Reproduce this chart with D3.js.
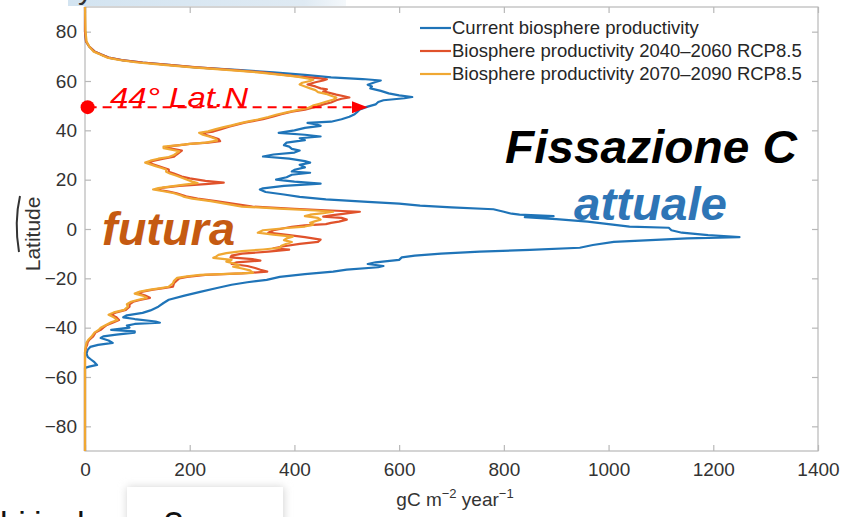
<!DOCTYPE html>
<html>
<head>
<meta charset="utf-8">
<script src="https://cdn.jsdelivr.net/npm/d3@7"></script>
<style>
  html, body { margin: 0; padding: 0; background: #fff; }
  svg { display: block; font-family: "Liberation Sans", Arial, sans-serif; }
</style>
</head>
<body>
<svg id="chart" width="864" height="517"></svg>
<script>
// [latitude, gC m-2 year-1]
const currentNPP = [
  [90, 0], [80, 0], [76, 2], [74, 8], [72, 18], [70.8, 30], [69.5, 45], [68.5, 70], [67.5, 110], [66.5, 160],
  [65.5, 210], [64.5, 290], [63.5, 360], [62.5, 420], [61.5, 470], [60.8, 530], [60.2, 565], [59.6, 555],
  [58.5, 540], [57.8, 548], [57, 545], [56, 565], [55, 580], [54.2, 600], [53.5, 625], [53, 610], [52.2, 570],
  [51.5, 560], [50.5, 555], [49.6, 540], [48.5, 525], [47.5, 520], [46.5, 515], [45.5, 505], [44.5, 490],
  [43.5, 470], [43, 425], [42.5, 440], [41.8, 450], [41, 420], [40, 400], [39, 370], [38.2, 420], [37.5, 450],
  [36.8, 410], [36, 420], [35, 385], [34, 380], [33.4, 390], [32.5, 395], [31.8, 410], [31, 400], [30.2, 360],
  [29.4, 340], [28.5, 390], [27.5, 420], [26.9, 430], [26, 410], [25, 420], [24, 400], [23.3, 395], [22.8, 430],
  [22, 395], [21, 385], [20, 365], [19.2, 400], [18.4, 450], [17.5, 380], [16.5, 340], [16, 334], [15, 345],
  [14, 380], [13, 410], [12, 460], [11, 540], [10.3, 600], [9.5, 640], [8.8, 700], [8, 780], [7, 800],
  [6.2, 815], [5.8, 830], [5.2, 895], [4.8, 840], [4, 900], [3, 960], [2, 1000], [1, 1040], [0.5, 1115],
  [-0.5, 1120], [-1.5, 1140], [-2.5, 1190], [-3.3, 1250], [-3.8, 1150], [-4.5, 1080], [-5.2, 1010],
  [-6.5, 970], [-7.6, 945], [-8.5, 850], [-9.2, 754], [-10, 680], [-10.8, 630], [-11.5, 605], [-12.5, 600],
  [-13.5, 555], [-14.2, 540], [-15, 570], [-15.5, 560], [-16.5, 500], [-17.3, 474], [-18.3, 420],
  [-19.4, 372], [-20.6, 347], [-21.6, 310], [-22.6, 280], [-24, 250], [-25.5, 220], [-27, 190],
  [-28.7, 160], [-30, 150], [-31.5, 140], [-33, 125], [-34, 110], [-35, 80], [-35.8, 73], [-36.5, 95],
  [-37.5, 135], [-38, 143], [-38.5, 95], [-39.2, 80], [-40, 85], [-40.9, 50], [-41.5, 95], [-42, 95],
  [-42.8, 60], [-43.5, 35], [-44.2, 30], [-45.2, 45], [-46.2, 53], [-47, 25], [-47.8, 10], [-49, 5],
  [-50.5, 3], [-51.8, 5], [-53, 12], [-54, 18], [-55.1, 23], [-55.8, 8], [-56.3, 0], [-60, 0], [-90, 0]
]

const npp2040 = [
  [90, 0], [80, 0], [76, 2], [74, 8], [72, 18], [70.8, 30], [69.5, 45], [68.5, 70], [67.5, 110], [66.5, 160],
  [65.5, 215], [64.5, 280], [63.5, 340], [62.5, 380], [61.8, 410], [61.2, 445], [60.7, 462], [60.2, 455],
  [59.5, 440], [58.6, 425], [57.8, 440], [57, 450], [56.6, 462], [55.8, 455], [55.3, 465], [54.5, 480],
  [53.8, 495], [53.3, 505], [52.8, 490], [52.2, 480], [51.3, 470], [50.5, 455], [49.5, 440], [48.4, 420],
  [47.6, 395], [46.5, 375], [45.6, 360], [44.5, 340], [43.5, 315], [43.1, 305], [42.3, 290], [41.5, 275],
  [40.5, 260], [39.5, 245], [39, 225], [38.2, 230], [37.2, 245], [36.5, 255], [35.6, 258], [35, 235],
  [34.5, 200], [34.2, 190], [33.5, 160], [33, 155], [32.4, 170], [31.8, 185], [31, 180], [30.2, 175],
  [29.3, 170], [28.5, 150], [27.6, 130], [26.9, 120], [26.2, 130], [25.5, 140], [24.8, 150], [24.1, 160],
  [23.2, 160], [22.5, 170], [21.3, 185], [20.5, 200], [19.5, 230], [18.8, 265], [18.2, 230], [17.5, 180],
  [16.8, 150], [16, 137], [15.2, 160], [14.5, 175], [13.5, 190], [13.1, 195], [12.3, 215], [11.3, 250],
  [10.2, 285], [9.1, 320], [8.2, 400], [7.5, 470], [7, 525], [6.3, 500], [5.5, 470], [5, 455], [4.5, 490],
  [3.8, 500], [3, 485], [2.5, 470], [2, 460], [1.5, 420], [0.9, 395], [0.3, 380], [-0.5, 360], [-1.5, 350],
  [-2.5, 390], [-3.3, 420], [-4.3, 450], [-5.2, 445], [-6, 410], [-7, 380], [-7.8, 360], [-8.4, 390],
  [-9.2, 350], [-10, 300], [-10.8, 280], [-11.5, 278], [-12.2, 320], [-12.8, 335], [-13.5, 290],
  [-14.2, 280], [-15, 310], [-15.8, 325], [-16.5, 335], [-17.3, 348], [-18, 300], [-18.6, 230],
  [-19.4, 195], [-20, 180], [-21, 175], [-22, 170], [-23.4, 168], [-24, 150], [-24.6, 130], [-25.4, 110],
  [-26, 100], [-27, 115], [-27.9, 124], [-28.8, 105], [-29.5, 92], [-30.5, 85], [-31.5, 85], [-32.8, 78],
  [-33.8, 60], [-34.8, 50], [-35.8, 60], [-36.9, 65], [-37.8, 55], [-38.9, 42], [-40, 35], [-40.9, 30],
  [-42, 20], [-43.7, 15], [-45, 8], [-46, 5], [-47, 4], [-48, 2], [-50, 0], [-90, 0]
]

const npp2070 = [
  [90, 0], [80, 1], [76, 3], [74, 8], [72, 16], [70.8, 28], [69.5, 42], [68.5, 65], [67.5, 100], [66.5, 150],
  [65.5, 205], [64.5, 270], [63.5, 330], [62.5, 375], [61.8, 405], [61, 425], [60.5, 436], [60, 430],
  [59.3, 415], [58.6, 410], [57.8, 420], [57, 430], [56.3, 440], [55.5, 445], [54.8, 460], [54, 470],
  [53.3, 480], [52.5, 475], [51.6, 460], [50.8, 448], [50, 435], [49, 425], [48.2, 405], [47.3, 385],
  [46.3, 365], [45.4, 350], [44.4, 330], [43.5, 310], [42.8, 295], [42, 280], [41.3, 265], [40.5, 250],
  [39.6, 235], [39, 218], [38.2, 225], [37.3, 240], [36.5, 250], [35.8, 252], [35, 230], [34.4, 195],
  [34, 180], [33.4, 150], [32.8, 150], [32.2, 165], [31.5, 180], [30.8, 175], [30, 170], [29.2, 160],
  [28.5, 140], [27.7, 125], [26.9, 115], [26.2, 125], [25.5, 135], [24.8, 145], [24.1, 155], [23.2, 155],
  [22.5, 162], [21.6, 175], [20.8, 185], [20, 195], [19.2, 205], [18.6, 215], [18, 190], [17.3, 165],
  [16.6, 140], [16, 130], [15.3, 150], [14.5, 170], [13.5, 185], [13, 190], [12.3, 205], [11.3, 240],
  [10.2, 270], [9.1, 300], [8.3, 370], [7.5, 440], [7, 474], [6.4, 455], [5.8, 430], [5.2, 420],
  [4.5, 445], [3.8, 450], [3.2, 440], [2.5, 430], [1.8, 436], [1, 420], [0.3, 380], [-0.5, 340],
  [-1.5, 330], [-2.3, 360], [-3.1, 397], [-3.8, 385], [-4.5, 380], [-5.3, 395], [-6, 385], [-6.8, 375],
  [-7.6, 372], [-8.3, 340], [-9, 300], [-9.8, 270], [-10.5, 255], [-11.2, 250], [-11.7, 245], [-12.5, 280],
  [-13.2, 270], [-14, 285], [-14.8, 295], [-15.3, 283], [-16, 300], [-16.8, 315], [-17.8, 321],
  [-18.3, 260], [-18.6, 220], [-19.2, 195], [-19.8, 176], [-21, 170], [-22, 168], [-23.4, 160],
  [-24, 145], [-24.6, 125], [-25.4, 105], [-26.2, 95], [-27, 110], [-27.9, 118], [-28.8, 100],
  [-29.5, 88], [-30.5, 80], [-31.5, 82], [-32.8, 75], [-33.8, 55], [-34.8, 45], [-35.8, 55], [-36.9, 62],
  [-37.8, 50], [-38.9, 40], [-40, 30], [-40.9, 26], [-42, 18], [-43.7, 12], [-45, 6], [-46, 3], [-47, 2],
  [-48, 1], [-50, 0], [-90, 0]
]

const seriesNames = [
  'Current biosphere productivity',
  'Biosphere productivity 2040\u20132060 RCP8.5',
  'Biosphere productivity 2070\u20132090 RCP8.5'
]
const seriesColors = ['#1f74b8', '#e0522b', '#f0a833']
const xTicks = [0, 200, 400, 600, 800, 1000, 1200, 1400]
const yTicks = [-80, -60, -40, -20, 0, 20, 40, 60, 80]

const svg = d3.select('#chart')

// bits of the slide around the figure
const grad = svg.append('defs').append('linearGradient').attr('id', 'bar').attr('x1', 0).attr('x2', 1)
grad.append('stop').attr('offset', 0).attr('stop-color', '#d3e4f1')
grad.append('stop').attr('offset', 0.85).attr('stop-color', '#dfeaf3')
grad.append('stop').attr('offset', 1).attr('stop-color', '#f4f8fb')
svg.append('rect').attr('x', 68).attr('y', 0).attr('width', 278).attr('height', 6).attr('fill', 'url(#bar)')
svg.append('text').attr('x', 78).attr('y', -1).attr('font-size', 30).attr('fill', '#333').text('y')

const x = d3.scaleLinear().domain([0, 1400]).range([85, 818])
const y = d3.scaleLinear().domain([-90, 90]).range([451, 7])

// box + inward ticks
const axisColor = '#b8b8b8'
svg.append('rect')
    .attr('x', x(0)).attr('y', y(90))
    .attr('width', x(1400) - x(0)).attr('height', y(-90) - y(90))
    .attr('fill', 'none').attr('stroke', axisColor).attr('stroke-width', 1.2)

const axBottom = svg.append('g').attr('transform', `translate(0,${y(-90)})`)
    .call(d3.axisBottom(x).tickValues(xTicks).tickFormat(d3.format('d')).tickSizeInner(-6).tickSizeOuter(0).tickPadding(12))
const axTop = svg.append('g').attr('transform', `translate(0,${y(90)})`)
    .call(d3.axisTop(x).tickValues(xTicks).tickSizeInner(-6).tickSizeOuter(0).tickFormat(''))
const axLeft = svg.append('g').attr('transform', `translate(${x(0)},0)`)
    .call(d3.axisLeft(y).tickValues(yTicks).tickSizeInner(-6).tickSizeOuter(0).tickPadding(8))
const axRight = svg.append('g').attr('transform', `translate(${x(1400)},0)`)
    .call(d3.axisRight(y).tickValues(yTicks).tickSizeInner(-6).tickSizeOuter(0).tickFormat(''))

for (const g of [axBottom, axTop, axLeft, axRight]) {
    g.select('.domain').remove()
    g.selectAll('line').attr('stroke', axisColor).attr('stroke-width', 1.2)
    g.selectAll('text').attr('font-size', 19).attr('fill', '#333').attr('font-family', '"Liberation Sans", Arial, sans-serif')
}
axLeft.selectAll('text').text(d => d < 0 ? '\u2212' + Math.abs(d) : d)

// axis labels
svg.append('text')
    .attr('transform', `translate(40,${y(-2)}) rotate(-90)`)
    .attr('text-anchor', 'middle').attr('font-size', 21).attr('fill', '#333')
    .text('Latitude')
svg.append('path').attr('d', 'M20,196 Q14,222 19,252').attr('fill', 'none').attr('stroke', '#333').attr('stroke-width', 2)

const xl = svg.append('text').attr('x', 455).attr('y', 506).attr('text-anchor', 'middle')
    .attr('font-size', 19).attr('fill', '#333')
xl.append('tspan').text('gC m')
xl.append('tspan').attr('dy', -8).attr('font-size', 13).text('\u22122')
xl.append('tspan').attr('dy', 8).text(' year')
xl.append('tspan').attr('dy', -8).attr('font-size', 13).text('\u22121')

// curves
const line = d3.line().x(d => x(d[1])).y(d => y(d[0]))
const series = [currentNPP, npp2040, npp2070]
svg.append('g').selectAll('path')
    .data(series)
    .join('path')
    .attr('d', line)
    .attr('fill', 'none')
    .attr('stroke', (_, i) => seriesColors[i])
    .attr('stroke-width', 2.2)
    .attr('stroke-linejoin', 'round')

// legend
const legend = svg.append('g').attr('transform', 'translate(420,28)')
const item = legend.selectAll('g').data(seriesNames).join('g')
    .attr('transform', (_, i) => `translate(0,${i * 23})`)
item.append('line').attr('x1', 0).attr('x2', 31).attr('stroke', (_, i) => seriesColors[i]).attr('stroke-width', 2.2)
item.append('text').attr('x', 32).attr('dy', '0.35em').attr('font-size', 18.5).attr('fill', '#262626').text(d => d)

// annotations
const ann = svg.append('g').attr('font-style', 'italic')
const arrowLat = 49.4
ann.append('text').attr('x', 110).attr('y', 107).attr('font-size', 28).attr('fill', '#f00')
    .attr('textLength', 138).attr('lengthAdjust', 'spacingAndGlyphs').text('44° Lat.N')
ann.append('line')
    .attr('x1', x(5)).attr('x2', x(520)).attr('y1', y(arrowLat)).attr('y2', y(arrowLat))
    .attr('stroke', '#f00').attr('stroke-width', 2).attr('stroke-dasharray', '9,6')
ann.append('circle').attr('cx', x(5)).attr('cy', y(arrowLat)).attr('r', 7).attr('fill', '#f00')
ann.append('path')
    .attr('d', `M${x(510)},${y(arrowLat) - 6}L${x(540)},${y(arrowLat)}L${x(510)},${y(arrowLat) + 6}Z`)
    .attr('fill', '#f00')

ann.append('text').attr('x', 505).attr('y', 163).attr('font-size', 46).attr('font-weight', 'bold')
    .attr('fill', '#000').attr('textLength', 292).attr('lengthAdjust', 'spacingAndGlyphs').text('Fissazione C')
ann.append('text').attr('x', 574).attr('y', 220).attr('font-size', 46).attr('font-weight', 'bold')
    .attr('fill', '#2e75b6').attr('textLength', 153).attr('lengthAdjust', 'spacingAndGlyphs').text('attuale')
ann.append('text').attr('x', 102).attr('y', 245).attr('font-size', 46).attr('font-weight', 'bold')
    .attr('fill', '#c55a11').attr('textLength', 133).attr('lengthAdjust', 'spacingAndGlyphs').text('futura')

// cut-off slide text at the bottom
const shadow = svg.append('defs').append('filter').attr('id', 'sh').attr('x', -0.2).attr('y', -0.5).attr('width', 1.4).attr('height', 2)
shadow.append('feGaussianBlur').attr('stdDeviation', 4)
svg.append('rect').attr('x', 127).attr('y', 487).attr('width', 157).attr('height', 40).attr('fill', '#d4d4d4').attr('filter', 'url(#sh)')
svg.append('rect').attr('x', 127).attr('y', 487).attr('width', 156).attr('height', 40).attr('fill', '#fff')
svg.append('text').attr('x', 0).attr('y', 535).attr('font-size', 34).attr('fill', '#111')
    .attr('textLength', 96).attr('lengthAdjust', 'spacing').text('bi i a h')
svg.append('text').attr('x', 164).attr('y', 535).attr('font-size', 34).attr('fill', '#111').text('?')
</script>
</body>
</html>
